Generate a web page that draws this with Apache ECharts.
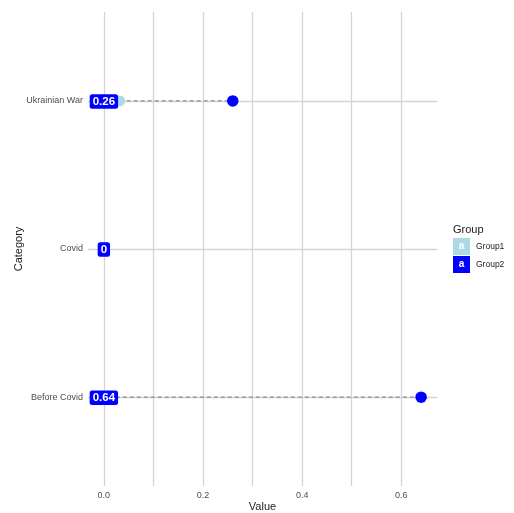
<!DOCTYPE html>
<html>
<head>
<meta charset="utf-8">
<script src="https://cdn.jsdelivr.net/npm/echarts@6/dist/echarts.min.js"></script>
<style>html,body{margin:0;padding:0;background:#fff}#c{width:514px;height:513px}</style>
</head>
<body>
<div id="c"></div>
<script>
// Data (bottom to top)
var categories = ['Before Covid', 'Covid', 'Ukrainian War'];
var group1 = [0.01, 0, 0.032];
var group2 = [0.64, 0, 0.26];
var xTickLabels = [0, 0.2, 0.4, 0.6];
var xGridValues = [0, 0.1, 0.2, 0.3, 0.4, 0.5, 0.6];
var groupNames = ['Group1', 'Group2'];

var chart = echarts.init(document.getElementById('c'), null, {renderer: 'canvas'});
var gridColor = '#d4d4d4';
var catIdx = categories.map(function (_, i) { return i; });
var ff = 'Liberation Sans, Arial';

var option = {
  animation: false,
  grid: {left: 88, right: 77, top: 12, bottom: 27, containLabel: false, outerBoundsMode: 'none'},
  xAxis: {
    type: 'value', min: -0.032, max: 0.672,
    axisLine: {show: false}, axisTick: {show: false}, splitLine: {show: false},
    axisLabel: {customValues: xTickLabels, color: '#4d4d4d', fontSize: 9, margin: 5,
      fontFamily: ff,
      formatter: function (v) { return v.toFixed(1); }},
    name: 'Value', nameLocation: 'middle', nameGap: 15, nameMoveOverlap: false,
    nameTextStyle: {color: '#1a1a1a', fontSize: 11, fontFamily: ff, verticalAlign: 'top'}
  },
  yAxis: {
    type: 'value', min: -0.6, max: 2.6,
    axisLine: {show: false}, axisTick: {show: false}, splitLine: {show: false},
    axisLabel: {customValues: catIdx, color: '#4d4d4d', fontSize: 9, margin: 5,
      fontFamily: ff,
      formatter: function (v) { return categories[Math.round(v)]; }},
    name: 'Category', nameLocation: 'middle', nameGap: 64, nameRotate: 90, nameMoveOverlap: false,
    nameTextStyle: {color: '#1a1a1a', fontSize: 11, fontFamily: ff}
  },
  series: [
    {
      type: 'line', data: [], silent: true, z: 0,
      markLine: {
        silent: true, symbol: 'none', label: {show: false}, z: 0,
        lineStyle: {color: gridColor, width: 1.3, type: 'solid', opacity: 1},
        emphasis: {disabled: true},
        data: xGridValues.map(function (v) { return {xAxis: v}; })
          .concat(catIdx.map(function (i) { return {yAxis: i}; }))
      }
    },
    {
      type: 'custom', silent: true, z: 3,
      data: catIdx.map(function (i) { return [group1[i], group2[i], i]; }),
      renderItem: function (params, api) {
        var p1 = api.coord([api.value(0), api.value(2)]);
        var p2 = api.coord([api.value(1), api.value(2)]);
        return {type: 'line', shape: {x1: p1[0], y1: p1[1], x2: p2[0], y2: p2[1]},
          style: {stroke: '#777777', lineWidth: 1, lineDash: [4, 3]}};
      },
      encode: {x: [0, 1], y: 2}
    },
    {
      type: 'scatter', name: groupNames[0], symbolSize: 11, z: 4,
      itemStyle: {color: '#add8e6', opacity: 1},
      data: catIdx.map(function (i) { return [group1[i], i]; })
    },
    {
      type: 'scatter', name: groupNames[1], symbolSize: 11.5, z: 5,
      itemStyle: {color: '#0000ff', opacity: 1},
      data: catIdx.map(function (i) { return [group2[i], i]; })
    },
    {
      type: 'scatter', symbolSize: 1, silent: true, z: 10, zlevel: 1,
      itemStyle: {color: 'rgba(0,0,0,0)', opacity: 1},
      data: catIdx.map(function (i) { return [0, i, group2[i]]; }),
      label: {
        show: true, position: 'inside', offset: [0, 0.5],
        formatter: function (p) { return String(p.data[2]); },
        color: '#fff', fontWeight: 'bold', fontSize: 11.5,
        fontFamily: ff,
        backgroundColor: '#0000ff', borderRadius: 2.5,
        padding: [1, 3, 1, 3], lineHeight: 12.5
      }
    }
  ],
  graphic: [
    {type: 'text', left: 453, top: 224, style: {text: 'Group', fill: '#1a1a1a', fontSize: 11, fontFamily: ff}},
    {type: 'rect', shape: {x: 453, y: 238, width: 17, height: 17}, style: {fill: '#add8e6'}},
    {type: 'text', x: 461.5, y: 246.5, style: {text: 'a', fill: '#fff', fontSize: 10, fontWeight: 'bold', align: 'center', verticalAlign: 'middle', fontFamily: ff}},
    {type: 'text', x: 476, y: 246.5, style: {text: groupNames[0], fill: '#1a1a1a', fontSize: 8.5, verticalAlign: 'middle', fontFamily: ff}},
    {type: 'rect', shape: {x: 453, y: 256, width: 17, height: 17}, style: {fill: '#0000ff'}},
    {type: 'text', x: 461.5, y: 264.5, style: {text: 'a', fill: '#fff', fontSize: 10, fontWeight: 'bold', align: 'center', verticalAlign: 'middle', fontFamily: ff}},
    {type: 'text', x: 476, y: 264.5, style: {text: groupNames[1], fill: '#1a1a1a', fontSize: 8.5, verticalAlign: 'middle', fontFamily: ff}}
  ]
};
chart.setOption(option);
</script>
</body>
</html>
